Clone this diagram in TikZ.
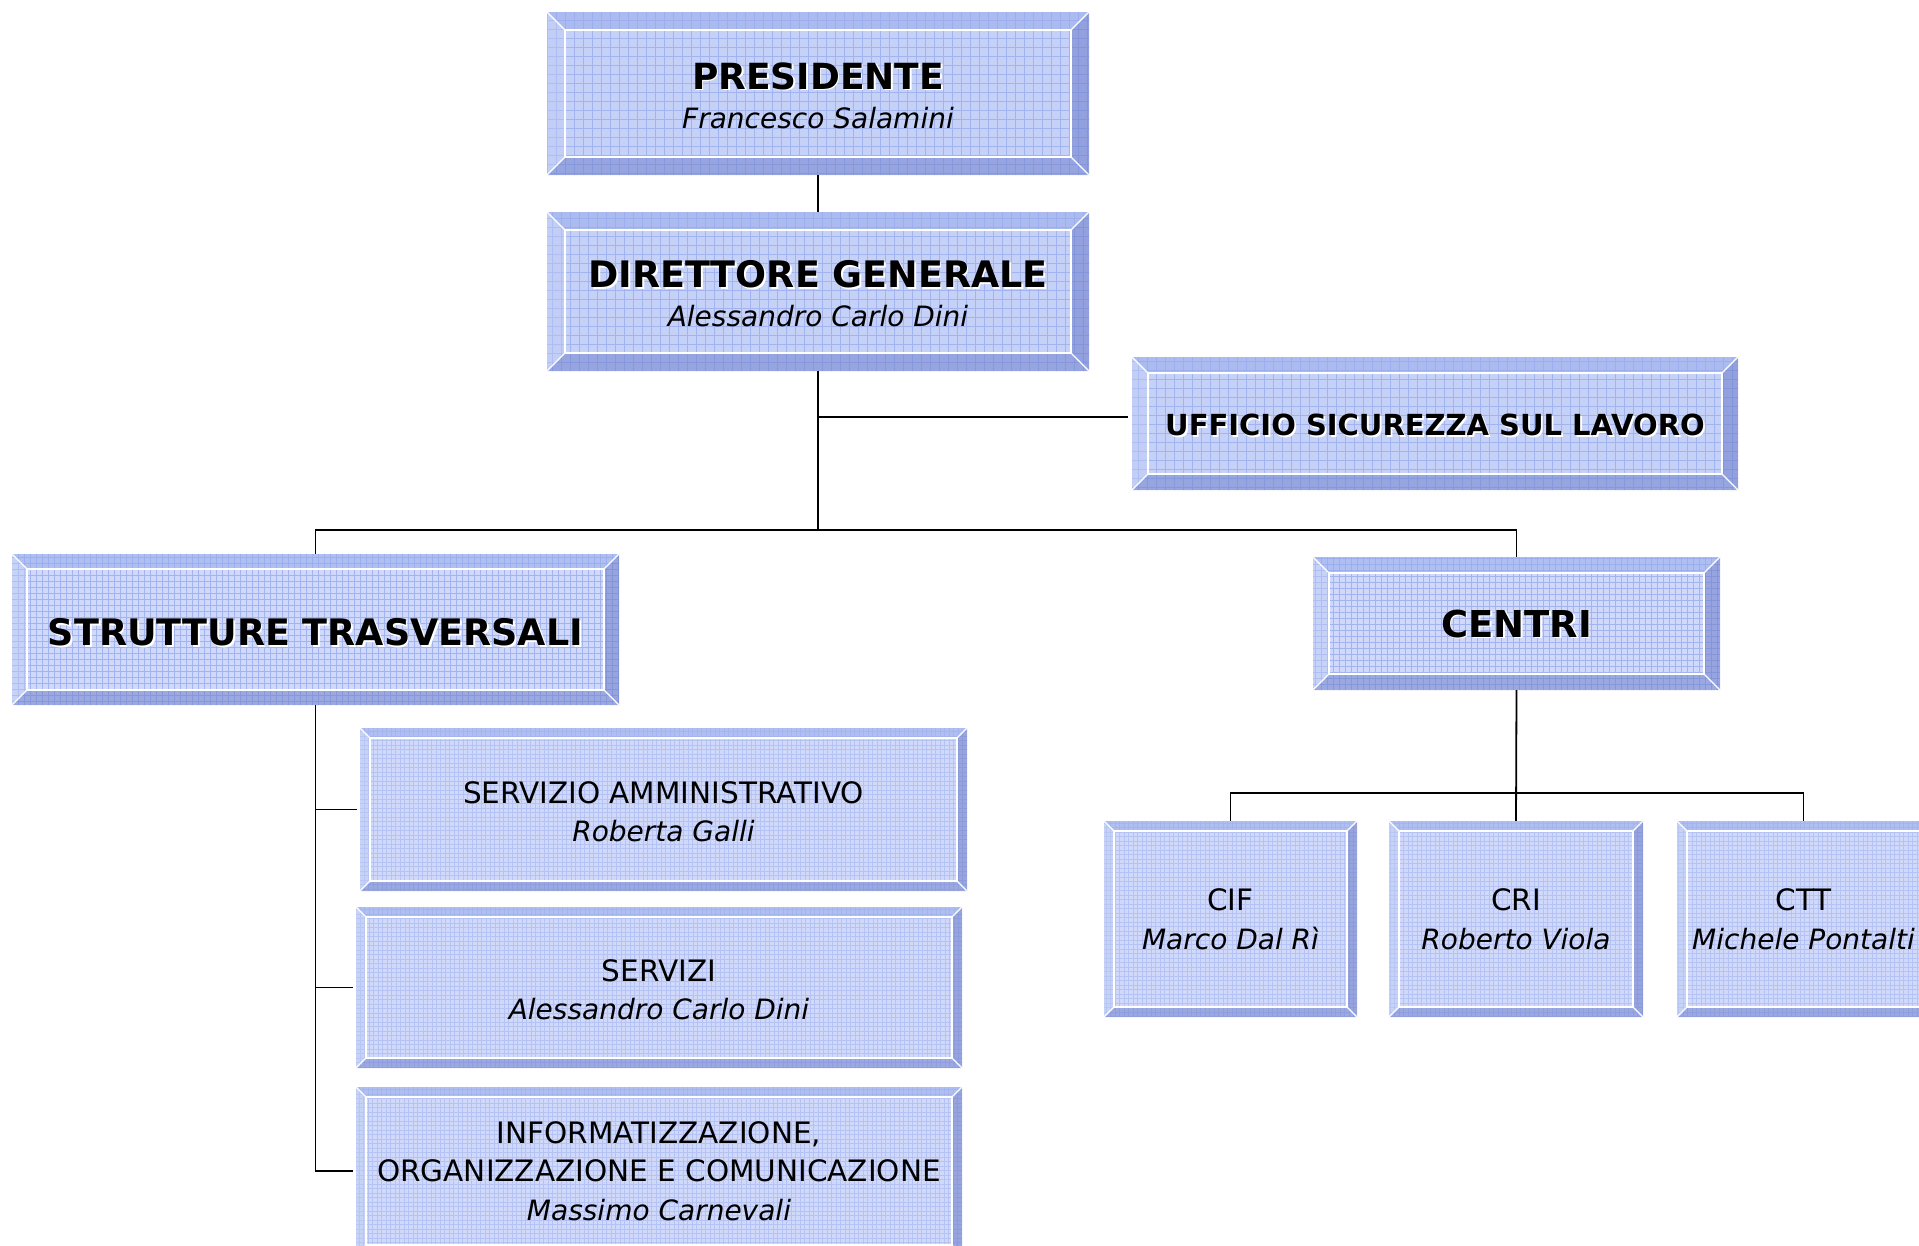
\documentclass[tikz,border=0pt]{standalone}
\usepackage{fontspec}
\setmainfont{DejaVu Sans}
\definecolor{faceA}{RGB}{198,209,247}
\definecolor{gridA}{RGB}{162,180,240}
\definecolor{faceB}{RGB}{208,217,249}
\definecolor{gridB}{RGB}{180,194,244}
\definecolor{bevT}{RGB}{150,170,235}
\definecolor{bevL}{RGB}{190,203,245}
\definecolor{bevR}{RGB}{105,122,200}
\definecolor{bevB}{RGB}{112,130,205}
\newcommand\shd[1]{\leavevmode\rlap{\kern1.8pt\raisebox{-1.8pt}{\textcolor{white}{#1}}}#1}
\newcommand\ttl[2]{{\fontsize{#1}{#1}\selectfont\bfseries\shd{#2}}}
\newcommand\nm[1]{{\fontsize{28}{28}\selectfont\itshape #1}}
\newcommand\dropby[2]{\raisebox{-#1}[\height][\depth]{#2}}
\newcommand\bevelpaint{%
  \coordinate (oNW) at (path picture bounding box.north west);
  \coordinate (oNE) at (path picture bounding box.north east);
  \coordinate (oSW) at (path picture bounding box.south west);
  \coordinate (oSE) at (path picture bounding box.south east);
  \coordinate (iNW) at ([xshift=\bevw pt,yshift=-\bevw pt]oNW);
  \coordinate (iNE) at ([xshift=-\bevw pt,yshift=-\bevw pt]oNE);
  \coordinate (iSW) at ([xshift=\bevw pt,yshift=\bevw pt]oSW);
  \coordinate (iSE) at ([xshift=-\bevw pt,yshift=\bevw pt]oSE);
  \fill[\boxface] (oSW) rectangle (oNE);
  \draw[\boxgrid, line width=0.8pt, step=\gstep pt] (oSW) grid (oNE);
  \fill[bevT, opacity=.55] (oNW) -- (oNE) -- (iNE) -- (iNW) -- cycle;
  \fill[bevL, opacity=.45] (oNW) -- (iNW) -- (iSW) -- (oSW) -- cycle;
  \fill[bevR, opacity=.55] (oNE) -- (oSE) -- (iSE) -- (iNE) -- cycle;
  \fill[bevB, opacity=.55] (oSW) -- (iSW) -- (iSE) -- (oSE) -- cycle;
  \draw[white, line width=1.3pt] (iNW) rectangle (iSE);
  \draw[white, line width=1.3pt] (oNW) -- (iNW) (oNE) -- (iNE) (oSW) -- (iSW) (oSE) -- (iSE);
}
\tikzset{
  bevw/.store in=\bevw, bevw=18,
  gstep/.store in=\gstep, gstep=9,
  bface/.store in=\boxface, bface=faceA,
  bgrid/.store in=\boxgrid, bgrid=gridA,
  orgbox/.style={rectangle, inner sep=0pt, align=center, text=black, path picture={\bevelpaint}},
  bigbox/.style={orgbox, bevw=18, gstep=9, bface=faceA, bgrid=gridA},
  midbox/.style={orgbox, bevw=15, gstep=6, bface=faceB, bgrid=gridA},
  smallbox/.style={orgbox, bevw=10, gstep=4.5, bface=faceB, bgrid=gridB},
  conn/.style={draw=black, line width=1.8pt},
  twoline/.style={font=\fontsize{28}{43}\selectfont},
  subline/.style={font=\fontsize{29.5}{38.5}\selectfont}
}
\begin{document}
\begin{tikzpicture}[x=1pt,y=-1pt]
\useasboundingbox (0,0) rectangle (1919,1245);
\fill[white] (0,0) rectangle (1919,1245);

% boxes
\node[bigbox, twoline, minimum width=542, minimum height=163] (pres) at (818,93.5)
  {\dropby{4pt}{\ttl{36}{PRESIDENTE}}\\\nm{Francesco Salamini}};
\node[bigbox, twoline, minimum width=542, minimum height=159] (dg) at (818,291.5)
  {\dropby{4.5pt}{\ttl{36.5}{DIRETTORE GENERALE}}\\\nm{Alessandro Carlo Dini}};
\node[bigbox, bevw=16, minimum width=606, minimum height=133] (uff) at (1435,423.5)
  {\dropby{2.5pt}{\ttl{29}{UFFICIO SICUREZZA SUL LAVORO}}};
\node[midbox, minimum width=607, minimum height=151] (str) at (315.5,629.5)
  {\dropby{3.5pt}{\ttl{36.5}{STRUTTURE TRASVERSALI}}};
\node[midbox, bevw=16, minimum width=407, minimum height=133] (cen) at (1516.5,623.5)
  {\dropby{1pt}{\ttl{37}{CENTRI}}};

\node[smallbox, subline, minimum width=607, minimum height=163] (sa) at (663.5,809.5)
  {\dropby{2pt}{SERVIZIO AMMINISTRATIVO}\\\dropby{2pt}{\nm{Roberta Galli}}};
\node[smallbox, subline, minimum width=606, minimum height=161] (ser) at (659,987.5)
  {\dropby{2pt}{SERVIZI}\\\dropby{2pt}{\nm{Alessandro Carlo Dini}}};
\node[smallbox, subline, minimum width=606, minimum height=168] (inf) at (659,1171)
  {INFORMATIZZAZIONE,\\ORGANIZZAZIONE E COMUNICAZIONE\\\nm{Massimo Carnevali}};

\node[smallbox, subline, minimum width=253, minimum height=196] (cif) at (1230.5,919)
  {CIF\\\nm{Marco Dal Rì}};
\node[smallbox, subline, minimum width=254, minimum height=196] (cri) at (1516,919)
  {CRI\\\nm{Roberto Viola}};
\node[smallbox, subline, minimum width=253, minimum height=196] (ctt) at (1803.5,919)
  {CTT\\\nm{Michele Pontalti}};

% junction points
\coordinate (j1) at (818,417);
\coordinate (bus) at (818,530);
\coordinate (cbus) at (1516.5,793);

% connectors
\draw[conn] (pres.south) -- (dg.north);
\draw[conn] (dg.south) -- (bus);
\draw[conn, shorten >=4pt] (j1) -- (j1 -| uff.west);
\draw[conn] (str.north) |- (bus) -| (cen.north);
\draw[conn] (cen.south) -- (cri.north);
\draw[conn] (cif.north) |- (cbus) -| (ctt.north);
\draw[conn, shorten >=3pt] (str.south) |- (inf.west);
\draw[conn, shorten >=3pt] (str.south |- sa.west) -- (sa.west);
\draw[conn, shorten >=3pt] (str.south |- ser.west) -- (ser.west);
\end{tikzpicture}
\end{document}
